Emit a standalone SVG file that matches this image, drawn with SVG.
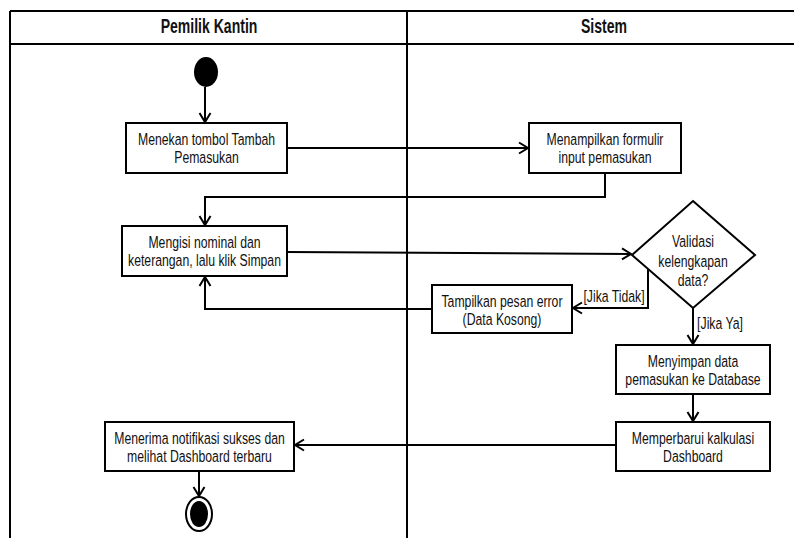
<svg xmlns="http://www.w3.org/2000/svg" width="794" height="538" viewBox="0 0 794 538">
<defs>
<style>
.lane{stroke:#000;stroke-width:2;fill:none}
.box{fill:#fff;stroke:#000;stroke-width:2}
.t{font-family:"Liberation Sans",Arial,sans-serif;font-size:17px;fill:#111;text-anchor:middle;dominant-baseline:central}
.h{font-family:"Liberation Sans",Arial,sans-serif;font-size:19.5px;font-weight:bold;fill:#111;text-anchor:middle;dominant-baseline:central}
.c{stroke:#000;stroke-width:2;fill:none}
</style>
<marker id="arr" markerUnits="userSpaceOnUse" viewBox="-11 -7 13 14" refX="0" refY="0" markerWidth="13" markerHeight="14" orient="auto">
<path d="M-9,-5.5 L0,0 L-9,5.5" fill="none" stroke="#000" stroke-width="2"/>
</marker>
</defs>
<rect width="794" height="538" fill="#fff"/>
<g id="lanes">
<line class="lane" x1="10" y1="11" x2="794" y2="11"/>
<line class="lane" x1="10" y1="44" x2="794" y2="44"/>
<line class="lane" x1="10" y1="11" x2="10" y2="538"/>
<line class="lane" x1="407" y1="11" x2="407" y2="538"/>
<text class="h" transform="matrix(0.72,0,0,1,209,27)">Pemilik Kantin</text>
<text class="h" transform="matrix(0.72,0,0,1,604,27)">Sistem</text>
</g>
<g id="connectors">
<line class="c" x1="205" y1="87" x2="205" y2="122" marker-end="url(#arr)"/>
<line class="c" x1="287" y1="148" x2="528" y2="148" marker-end="url(#arr)"/>
<polyline class="c" points="605,173 605,197 205,197 205,225" marker-end="url(#arr)"/>
<line class="c" x1="287" y1="252" x2="631" y2="254" marker-end="url(#arr)"/>
<polyline class="c" points="648,268 648,308 573,308" marker-end="url(#arr)"/>
<polyline class="c" points="432,309 205,309 205,277" marker-end="url(#arr)"/>
<line class="c" x1="693" y1="308" x2="693" y2="344" marker-end="url(#arr)"/>
<line class="c" x1="693" y1="394" x2="693" y2="421" marker-end="url(#arr)"/>
<line class="c" x1="616" y1="445" x2="295" y2="445" marker-end="url(#arr)"/>
<line class="c" x1="199" y1="471" x2="199" y2="496" marker-end="url(#arr)"/>
<text class="t" transform="matrix(0.72,0,0,1,614,296)">[Jika Tidak]</text>
<text class="t" transform="matrix(0.72,0,0,1,720,323)">[Jika Ya]</text>
</g>
<g id="start"><ellipse cx="206" cy="72" rx="12" ry="15" fill="#000"/></g>
<g id="n1"><rect class="box" x="126" y="123" width="161" height="50"/>
<text class="t" transform="matrix(0.72,0,0,1,206.5,139.5)">Menekan tombol Tambah</text>
<text class="t" transform="matrix(0.72,0,0,1,206.5,157)">Pemasukan</text></g>
<g id="n2"><rect class="box" x="529" y="123" width="152" height="50"/>
<text class="t" transform="matrix(0.72,0,0,1,605,139.5)">Menampilkan formulir</text>
<text class="t" transform="matrix(0.72,0,0,1,605,157)">input pemasukan</text></g>
<g id="n3"><rect class="box" x="122" y="226" width="165" height="50"/>
<text class="t" transform="matrix(0.72,0,0,1,204.5,242.5)">Mengisi nominal dan</text>
<text class="t" transform="matrix(0.72,0,0,1,204.5,260)">keterangan, lalu klik Simpan</text></g>
<g id="d1"><polygon class="box" points="693,201 755,255 693,308 632,255"/>
<text class="t" transform="matrix(0.72,0,0,1,693,241)">Validasi</text>
<text class="t" transform="matrix(0.72,0,0,1,693,261)">kelengkapan</text>
<text class="t" transform="matrix(0.72,0,0,1,693,280)">data?</text></g>
<g id="n4"><rect class="box" x="432" y="285" width="140" height="48"/>
<text class="t" transform="matrix(0.72,0,0,1,502,301)">Tampilkan pesan error</text>
<text class="t" transform="matrix(0.72,0,0,1,502,319)">(Data Kosong)</text></g>
<g id="n5"><rect class="box" x="616" y="345" width="154" height="49"/>
<text class="t" transform="matrix(0.72,0,0,1,693,361)">Menyimpan data</text>
<text class="t" transform="matrix(0.72,0,0,1,693,379)">pemasukan ke Database</text></g>
<g id="n6"><rect class="box" x="616" y="422" width="154" height="49"/>
<text class="t" transform="matrix(0.72,0,0,1,693,438)">Memperbarui kalkulasi</text>
<text class="t" transform="matrix(0.72,0,0,1,693,456)">Dashboard</text></g>
<g id="n7"><rect class="box" x="105" y="422" width="189" height="49"/>
<text class="t" transform="matrix(0.72,0,0,1,199.5,438)">Menerima notifikasi sukses dan</text>
<text class="t" transform="matrix(0.72,0,0,1,199.5,456)">melihat Dashboard terbaru</text></g>
<g id="end"><ellipse cx="199" cy="514" rx="13" ry="17" fill="#fff" stroke="#000" stroke-width="2"/>
<ellipse cx="199" cy="514" rx="9" ry="13" fill="#000"/></g>
</svg>
